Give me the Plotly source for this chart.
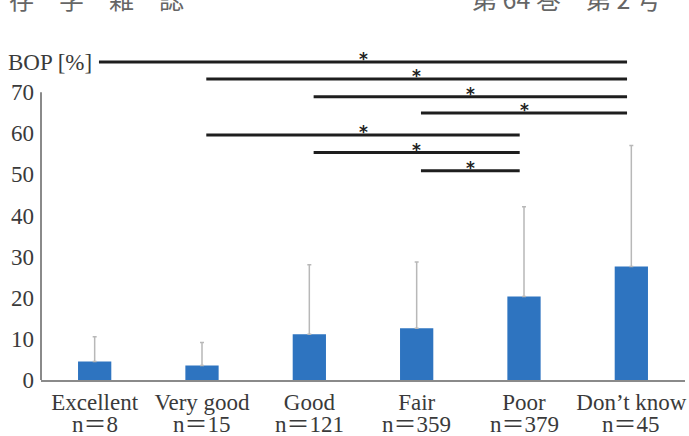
import plotly.graph_objects as go

# ---- data ----
categories = ["Excellent", "Very good", "Good", "Fair", "Poor", "Don’t know"]
n_counts = [8, 15, 121, 359, 379, 45]
bop_mean = [4.5, 3.5, 11.1, 12.6, 20.3, 27.6]
bop_sd = [6.0, 5.6, 16.9, 16.1, 21.8, 29.4]
y_ticks = [0, 10, 20, 30, 40, 50, 60, 70]
# significant pairwise comparisons (index pairs into categories)
comparisons = [(0, 5), (1, 5), (2, 5), (3, 5), (1, 4), (2, 4), (3, 4)]
sig_marks = ["*", "*", "*", "*", "*", "*", "*"]

# ---- style / layout ----
bracket_levels = [77.3, 73.2, 68.9, 64.9, 59.6, 55.3, 50.9]
FONT = "Liberation Serif, Noto Sans CJK JP, serif"
TXT = "#3a3a3a"
AX = "#8a8a8a"
BAR = "#2E74C0"

x_idx = list(range(len(categories)))

fig = go.Figure()
fig.add_trace(go.Bar(
    x=x_idx, y=bop_mean, width=0.31,
    marker=dict(color=BAR, line=dict(width=0)),
    error_y=dict(type="data", symmetric=False, array=bop_sd,
                 arrayminus=[0] * len(bop_sd), color="#b8b8b8",
                 thickness=1.5, width=2),
    showlegend=False, hoverinfo="skip",
))

shapes = []
annotations = []
for (i, j), lvl, mk in zip(comparisons, bracket_levels, sig_marks):
    shapes.append(dict(type="line", xref="x", yref="y",
                       x0=i + 0.04, x1=j - 0.04, y0=lvl, y1=lvl,
                       line=dict(color="#1e1e1e", width=3)))
    annotations.append(dict(x=(i + j) / 2, y=lvl, xref="x", yref="y",
                            text=f"<b>{mk}</b>", showarrow=False, yanchor="middle",
                            yshift=3, font=dict(family="DejaVu Sans", size=17, color="#222")))

# y-axis line only from 0 to 70
ymax = 80
shapes.append(dict(type="line", xref="paper", yref="paper", x0=0, x1=0,
                   y0=0, y1=y_ticks[-1] / ymax, line=dict(color=AX, width=2)))

# n = ... labels
for k, nn in zip(x_idx, n_counts):
    annotations.append(dict(x=k, y=0, xref="x", yref="paper", text=f"n＝{nn}",
                            showarrow=False, yanchor="top", yshift=-30,
                            font=dict(family=FONT, size=23, color=TXT)))

# y title
annotations.append(dict(x=0, y=bracket_levels[0], xref="paper", yref="y",
                        text="BOP [%]", showarrow=False, xanchor="left", xshift=-35,
                        yanchor="middle", font=dict(family=FONT, size=23, color=TXT)))
# journal header (cropped at top)
annotations.append(dict(x=0, y=1, xref="paper", yref="paper", text="存　学　雑　誌",
                        showarrow=False, xanchor="left", yanchor="middle",
                        xshift=-34, yshift=53,
                        font=dict(family="Noto Sans CJK JP", size=25, color="#666")))
annotations.append(dict(x=1, y=1, xref="paper", yref="paper", text="第 64 巻　第 2 号",
                        showarrow=False, xanchor="right", yanchor="middle",
                        xshift=-22, yshift=53,
                        font=dict(family="Noto Sans CJK JP", size=25, color="#666")))

fig.update_layout(
    width=689, height=436,
    margin=dict(l=41, r=2, t=51, b=56),
    paper_bgcolor="white", plot_bgcolor="white",
    shapes=shapes, annotations=annotations,
    xaxis=dict(range=[-0.5, 5.5], tickvals=x_idx, ticktext=categories,
               showline=True, linecolor=AX, linewidth=2, ticks="",
               showgrid=False, zeroline=False, ticklabelstandoff=0,
               tickfont=dict(family=FONT, size=23, color=TXT)),
    yaxis=dict(range=[0, ymax], tickvals=y_ticks, showline=False, ticks="",
               showgrid=False, zeroline=False, ticklabelstandoff=6,
               tickfont=dict(family=FONT, size=23, color=TXT)),
)

fig.write_html("out.html")
